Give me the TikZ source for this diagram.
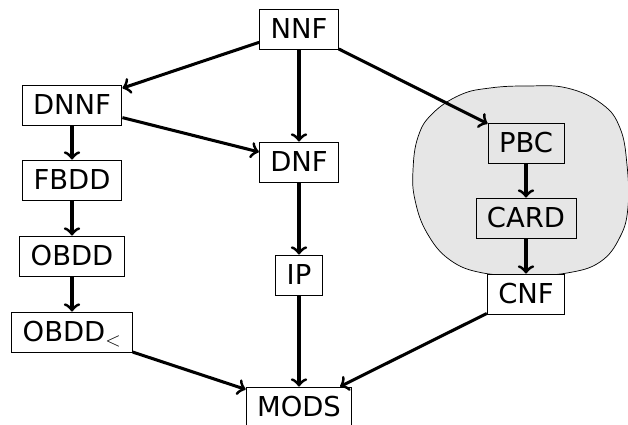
\documentclass[tikz,border=0pt]{standalone}
\usepackage{fontspec}
\setmainfont{DejaVu Sans}
\usetikzlibrary{arrows.meta}
\definecolor{blobgray}{RGB}{230,230,230}

\begin{document}
\begin{tikzpicture}[x=0.3mm, y=-0.3mm,
        lang/.style={draw, line width=0.8pt, fill=white, minimum height=12mm,
            inner xsep=3.3mm, text height=17pt, text depth=0pt,
            font=\fontsize{23.4pt}{28pt}\selectfont},
        arr/.style={-{Classical TikZ Rightarrow[length=7pt,width=14pt]}, line width=2.6pt}]
        \useasboundingbox (0,0) rectangle (628,425);

        % Shaded region round the cardinality languages
        \draw[fill=blobgray, line width=0.6pt] plot[smooth cycle, tension=0.7] coordinates {
            (527,86) (567,88) (602,104) (620,128) (627,165) (628,207) (620,237)
            (600,262) (567,273) (527,275) (483,273) (450,260) (427,233)
            (415,200) (413,170) (418,137) (432,114) (460,95) (490,88)};

        % Top and middle column
        \node[lang] (nnf) at (299,29) {NNF};
        \node[lang] (dnf) at (299,162) {DNF};
        \node[lang] (ip) at (299,275) {IP};
        \node[lang] (mods) at (299,407) {MODS};

        % Left column
        \node[lang] (dnnf) at (72,105) {DNNF};
        \node[lang] (fbdd) at (72,180) {FBDD};
        \node[lang] (obdd) at (72,256) {OBDD};
        \node[lang] (obddlt) at (72,332) {OBDD$_<$};

        % Right column, inside the shaded region
        \node[lang, fill=none] (pbc) at (526,143) {PBC};
        \node[lang, fill=none] (card) at (526,218) {CARD};
        \node[lang] (cnf) at (526,294) {CNF};

        % Arrows
        \draw[arr] (nnf) -- (dnnf);
        \draw[arr] (nnf) -- (dnf);
        \draw[arr] (nnf) -- (pbc);
        \draw[arr] (dnnf) -- (fbdd);
        \draw[arr] (dnnf) -- (dnf);
        \draw[arr] (fbdd) -- (obdd);
        \draw[arr] (obdd) -- (obddlt);
        \draw[arr] (obddlt) -- (mods);
        \draw[arr] (dnf) -- (ip);
        \draw[arr] (ip) -- (mods);
        \draw[arr] (pbc) -- (card);
        \draw[arr] (card) -- (cnf);
        \draw[arr] (cnf) -- (mods);
\end{tikzpicture}
\end{document}
